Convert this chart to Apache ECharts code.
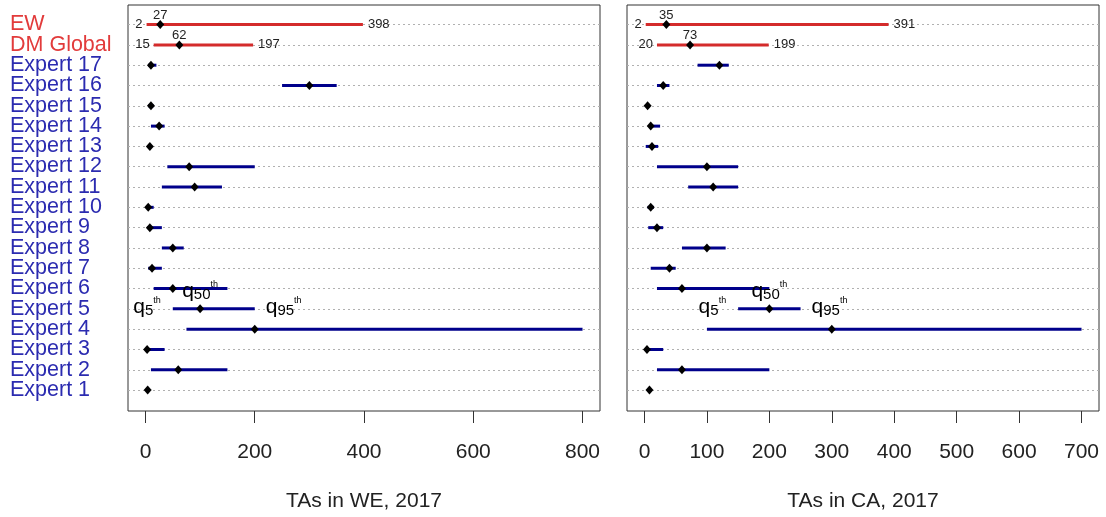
<!DOCTYPE html>
<html>
<head>
<meta charset="utf-8">
<script src="https://cdn.jsdelivr.net/npm/echarts@6/dist/echarts.min.js"></script>
<style>
  html, body { margin: 0; padding: 0; background: #fff; }
  #main { width: 1106px; height: 517px; }
</style>
</head>
<body>
<div id="main"></div>
<script>
// rows, top to bottom
var rows = ['EW', 'DM Global', 'Expert 17', 'Expert 16', 'Expert 15', 'Expert 14', 'Expert 13',
  'Expert 12', 'Expert 11', 'Expert 10', 'Expert 9', 'Expert 8', 'Expert 7', 'Expert 6',
  'Expert 5', 'Expert 4', 'Expert 3', 'Expert 2', 'Expert 1'];

// TAs in WE, 2017 : 5th, 50th, 95th quantiles
var weQ5  = [2, 15, 5, 250, 5, 10, 5, 40, 30, 2, 3, 30, 5, 15, 50, 75, 1, 10, 2];
var weQ50 = [27, 62, 10, 300, 10, 25, 8, 80, 90, 5, 8, 50, 12, 50, 100, 200, 3, 60, 4];
var weQ95 = [398, 197, 20, 350, 15, 35, 12, 200, 140, 15, 30, 70, 30, 150, 200, 800, 35, 150, 7];

// TAs in CA, 2017
var caQ5  = [2, 20, 85, 20, 3, 8, 2, 20, 70, 5, 6, 60, 10, 20, 150, 100, 2, 20, 5];
var caQ50 = [35, 73, 120, 30, 5, 10, 12, 100, 110, 10, 20, 100, 40, 60, 200, 300, 4, 60, 8];
var caQ95 = [391, 199, 135, 40, 8, 25, 22, 150, 150, 15, 30, 130, 50, 200, 250, 700, 30, 200, 10];

var weTicks = [0, 200, 400, 600, 800];
var caTicks = [0, 100, 200, 300, 400, 500, 600, 700];

var labelledRows = [0, 1];   // EW and DM Global get numbers
var quantileRow = 14;        // Expert 5 carries the q5/q50/q95 note

var RED = '#d42b2b';
var NAVY = '#00008b';
var FONT = '"Liberation Sans", Arial, sans-serif';

function toData(q5, q50, q95) {
  var out = [];
  for (var i = 0; i < rows.length; i++) {
    out.push([q5[i], q50[i], q95[i], i]);
  }
  return out;
}

function numText(x, y, txt, align, vAlign) {
  return {
    type: 'text',
    style: {
      x: x, y: y, text: txt, fill: '#222',
      font: '13px ' + FONT, align: align, verticalAlign: vAlign
    }
  };
}

var qRich = {
  q: { fontSize: 21, fontFamily: FONT, color: '#222', verticalAlign: 'middle', lineHeight: 22 },
  s: { fontSize: 15, fontFamily: FONT, color: '#222', verticalAlign: 'bottom', lineHeight: 18 },
  t: { fontSize: 9, fontFamily: FONT, color: '#222', verticalAlign: 'top', lineHeight: 10 }
};

function qText(x, y, txt, align) {
  return {
    type: 'text',
    style: {
      x: x, y: y, text: txt, rich: qRich, align: align, verticalAlign: 'middle'
    }
  };
}

function renderItem(params, api) {
  var row = api.value(3);
  var lo = api.coord([api.value(0), row]);
  var md = api.coord([api.value(1), row]);
  var hi = api.coord([api.value(2), row]);
  var color = row < 2 ? RED : NAVY;
  var kids = [
    {
      type: 'line',
      shape: { x1: lo[0], y1: lo[1], x2: hi[0], y2: hi[1] },
      style: { stroke: color, lineWidth: 3 }
    },
    {
      type: 'polygon',
      shape: { points: [[md[0], md[1] - 4.5], [md[0] + 4, md[1]], [md[0], md[1] + 4.5], [md[0] - 4, md[1]]] },
      style: { fill: '#000' }
    }
  ];
  if (labelledRows.indexOf(row) >= 0) {
    kids.push(numText(lo[0] - 4, lo[1], String(api.value(0)), 'right', 'middle'));
    kids.push(numText(hi[0] + 5, hi[1], String(api.value(2)), 'left', 'middle'));
    kids.push(numText(md[0], md[1] - 9, String(api.value(1)), 'center', 'middle'));
  }
  if (row === quantileRow) {
    kids.push(qText(lo[0] - 12, lo[1] - 2, '{q|q}{s|5}{t|th}', 'right'));
    kids.push(qText(hi[0] + 11, hi[1] - 2, '{q|q}{s|95}{t|th}', 'left'));
    kids.push(qText(md[0], md[1] - 18, '{q|q}{s|50}{t|th}', 'center'));
  }
  return { type: 'group', children: kids };
}

function xAxisFor(idx, min, max, ticks, name) {
  return {
    type: 'value', gridIndex: idx, min: min, max: max, position: 'bottom',
    name: name, nameLocation: 'middle', nameGap: 80,
    nameTextStyle: { fontSize: 21, fontFamily: FONT, color: '#222' },
    axisLine: { show: false, onZero: false },
    axisTick: { show: true, length: 12, customValues: ticks, lineStyle: { color: '#333', width: 1 } },
    axisLabel: { customValues: ticks, margin: 31, fontSize: 21, fontFamily: FONT, color: '#222' },
    splitLine: { show: false }
  };
}

var rowIdx = rows.map(function (r, i) { return i; });

function yAxisFor(idx) {
  return {
    type: 'value', gridIndex: idx, inverse: true, min: -0.965, max: 19.03,
    axisLine: { show: false, onZero: false },
    axisTick: { show: false, customValues: rowIdx },
    axisLabel: { show: false },
    splitLine: { show: true, lineStyle: { color: '#b0b0b0', type: [2, 3], width: 1 } }
  };
}

var chart = echarts.init(document.getElementById('main'));
chart.setOption({
  animation: false,
  backgroundColor: '#fff',
  grid: [
    { left: 128, right: 506, top: 5, bottom: 106, show: true, borderColor: '#333', borderWidth: 1, backgroundColor: 'transparent' },
    { left: 627, right: 7, top: 5, bottom: 106, show: true, borderColor: '#333', borderWidth: 1, backgroundColor: 'transparent' },
    // band grid for the row names, one band per row
    { left: 128, right: 506, top: 14.14, bottom: 116.76, show: false }
  ],
  xAxis: [
    xAxisFor(0, -32, 832, weTicks, 'TAs in WE, 2017'),
    xAxisFor(1, -28, 728, caTicks, 'TAs in CA, 2017'),
    { type: 'value', gridIndex: 2, show: false }
  ],
  yAxis: [
    yAxisFor(0),
    yAxisFor(1),
    {
      type: 'category', gridIndex: 2, data: rows, inverse: true,
      axisLine: { show: false }, axisTick: { show: false }, splitLine: { show: false },
      axisLabel: {
        interval: 0, align: 'left', margin: 118,
        fontSize: 21.5, fontFamily: FONT,
        color: function (v) { return rows.indexOf(v) < 2 ? '#e23b3b' : '#2b2bb0'; }
      }
    }
  ],
  series: [
    {
      name: 'WE', type: 'custom', xAxisIndex: 0, yAxisIndex: 0,
      renderItem: renderItem, data: toData(weQ5, weQ50, weQ95), clip: false
    },
    {
      name: 'CA', type: 'custom', xAxisIndex: 1, yAxisIndex: 1,
      renderItem: renderItem, data: toData(caQ5, caQ50, caQ95), clip: false
    }
  ]
});
</script>
</body>
</html>
